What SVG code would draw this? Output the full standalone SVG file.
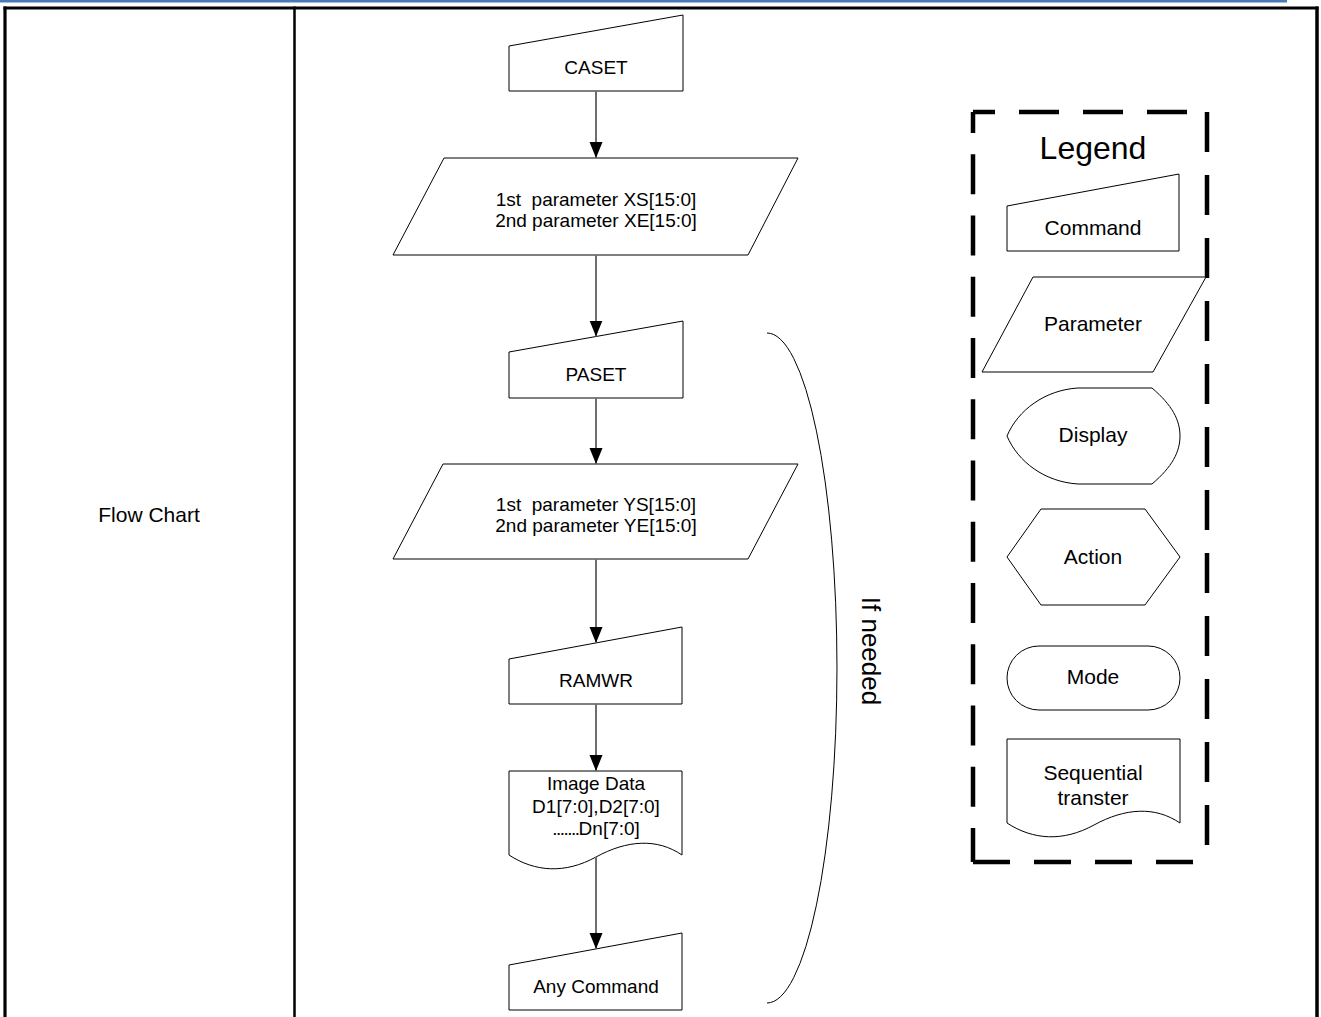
<svg xmlns="http://www.w3.org/2000/svg" width="1321" height="1017" viewBox="0 0 1321 1017">
<style>
.shape{fill:#fff;stroke:#000;stroke-width:1}
.t{font-family:"Liberation Sans",Arial,sans-serif;fill:#000;text-anchor:middle}
.s19{font-size:19px}
.s21{font-size:21px}
.pre{white-space:pre}
.conn{stroke:#6e6e6e;stroke-width:2;fill:none}
.frame{stroke:#000;fill:none}
.dash{stroke:#000;stroke-width:4.5;fill:none;stroke-linecap:butt}
</style>
<defs>
<marker id="arrow" markerUnits="userSpaceOnUse" markerWidth="17" markerHeight="14" refX="16" refY="6.5" orient="auto">
<path d="M0,0 L16,6.5 L0,13 Z" fill="#000"/>
</marker>
</defs>
<rect width="1321" height="1017" fill="#fff"/>
<g id="page-frame">
<rect x="0" y="0" width="1287" height="2.5" fill="#4a7cb4"/>
<line class="frame" x1="3.5" y1="8" x2="1318.5" y2="8" stroke-width="3"/>
<line class="frame" x1="5" y1="6.5" x2="5" y2="1017" stroke-width="3.2"/>
<line class="frame" x1="294.5" y1="6.5" x2="294.5" y2="1017" stroke-width="2.5"/>
<line class="frame" x1="1317" y1="6.5" x2="1317" y2="1017" stroke-width="3.5"/>
<text class="t s21" x="149" y="522">Flow Chart</text>
</g>
<g id="caset">
<polygon class="shape" points="509,46 683,15 683,91 509,91"/>
<text class="t s19" x="596" y="74">CASET</text>
</g>
<g id="param-x">
<polygon class="shape" points="444,158 798,158 748,255 393,255"/>
<text class="t s19 pre" xml:space="preserve" x="596" y="206">1st  parameter XS[15:0]</text>
<text class="t s19" x="596" y="227">2nd parameter XE[15:0]</text>
</g>
<g id="paset">
<polygon class="shape" points="509,352 683,321 683,398 509,398"/>
<text class="t s19" x="596" y="381">PASET</text>
</g>
<g id="param-y">
<polygon class="shape" points="443,464 798,464 748,559 393,559"/>
<text class="t s19 pre" xml:space="preserve" x="596" y="511">1st  parameter YS[15:0]</text>
<text class="t s19" x="596" y="532">2nd parameter YE[15:0]</text>
</g>
<g id="ramwr">
<polygon class="shape" points="509,659 682,627 682,704 509,704"/>
<text class="t s19" x="596" y="687">RAMWR</text>
</g>
<g id="image-data">
<path class="shape" d="M509,771 H682 V855 C657,838 627,840 596,857 C565,874 535,872 509,855 Z"/>
<text class="t s19" x="596" y="790">Image Data</text>
<text class="t s19" x="596" y="813">D1[7:0],D2[7:0]</text>
<text class="t s19" x="596" y="835"><tspan letter-spacing="-1.5">.......</tspan>Dn[7:0]</text>
</g>
<g id="any-command">
<polygon class="shape" points="509,965 682,933 682,1010 509,1010"/>
<text class="t s19" x="596" y="993">Any Command</text>
</g>
<g id="if-needed">
<path d="M767,333 A70,335 0 0 1 767,1003" fill="none" stroke="#000" stroke-width="1"/>
<text class="t" font-size="26" transform="translate(862,651) rotate(90)" x="0" y="0">If needed</text>
</g>
<g id="connectors">
<line class="conn" x1="596" y1="91" x2="596" y2="158" marker-end="url(#arrow)"/>
<line class="conn" x1="596" y1="255" x2="596" y2="336.5" marker-end="url(#arrow)"/>
<line class="conn" x1="596" y1="398" x2="596" y2="464" marker-end="url(#arrow)"/>
<line class="conn" x1="596" y1="559" x2="596" y2="643" marker-end="url(#arrow)"/>
<line class="conn" x1="596" y1="704" x2="596" y2="771" marker-end="url(#arrow)"/>
<line class="conn" x1="596" y1="857" x2="596" y2="949" marker-end="url(#arrow)"/>
</g>
<g id="legend">
<line class="dash" x1="973" y1="112" x2="1207" y2="112" stroke-dasharray="40 24" stroke-dashoffset="18"/>
<line class="dash" x1="1207" y1="112" x2="1207" y2="862" stroke-dasharray="40 23"/>
<line class="dash" x1="973" y1="862" x2="1207" y2="862" stroke-dasharray="37 24"/>
<line class="dash" x1="973" y1="862" x2="973" y2="112" stroke-dasharray="40 21.25" stroke-dashoffset="6"/>
<text class="t" font-size="32" x="1093" y="159">Legend</text>
</g>
<g id="legend-command">
<polygon class="shape" points="1007,206 1179,174 1179,251 1007,251"/>
<text class="t s21" x="1093" y="235">Command</text>
</g>
<g id="legend-parameter">
<polygon class="shape" points="1033,277 1206,277 1153,372 982,372"/>
<text class="t s21" x="1093" y="331">Parameter</text>
</g>
<g id="legend-display">
<path class="shape" d="M1078,388 H1152 C1172,405 1180,420 1180,436 C1180,452 1172,467 1152,484 H1078 C1045,482 1018,462 1007,436 C1018,410 1045,390 1078,388 Z"/>
<text class="t s21" x="1093" y="442">Display</text>
</g>
<g id="legend-action">
<polygon class="shape" points="1041,509 1145,509 1180,557 1145,605 1041,605 1007,557"/>
<text class="t s21" x="1093" y="564">Action</text>
</g>
<g id="legend-mode">
<rect class="shape" x="1007" y="646" width="173" height="64" rx="32" ry="32"/>
<text class="t s21" x="1093" y="684">Mode</text>
</g>
<g id="legend-sequential">
<path class="shape" d="M1007,739 H1180 V823 C1155,806 1125,808 1094,825 C1063,842 1033,840 1007,823 Z"/>
<text class="t s21" x="1093" y="780">Sequential</text>
<text class="t s21" x="1093" y="805">transter</text>
</g>
</svg>
